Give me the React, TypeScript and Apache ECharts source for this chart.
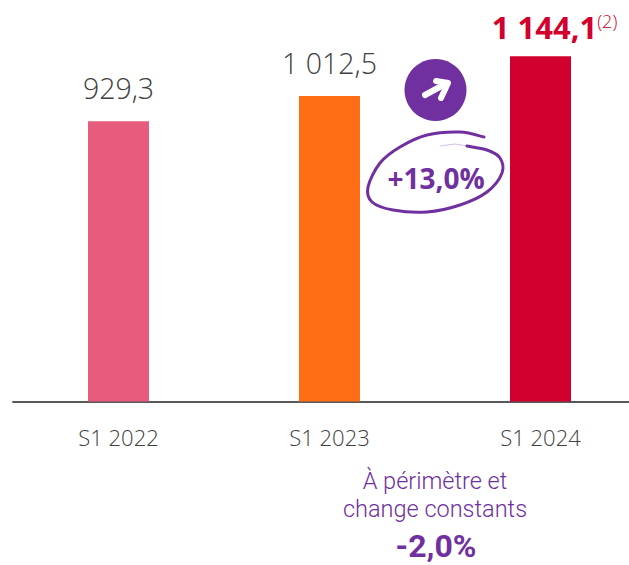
import React, { useEffect, useRef } from "react";
import * as echarts from "echarts";

const categories = ["S1 2022", "S1 2023", "S1 2024"];
const values = [929.3, 1012.5, 1144.1];
const valueLabels = ["929,3", "1 012,5", "1 144,1"];
const barColors = ["#E75C7D", "#FF6D14", "#D2002D"];
const growthLabel = "+13,0%";
const constantLines = ["À périmètre et", "change constants"];
const constantValue = "-2,0%";

const PURPLE = "#7030A0";
const FONT = '"Open Sans", "Noto Sans", sans-serif';
const NOTE_FONT = 'Roboto, "Open Sans", sans-serif';

const strokePoints = [
  [484, 137], [460, 132], [427, 135], [400, 147], [380, 163], [368, 187], [372, 202], [393, 210],
  [427, 212], [460, 205], [487, 192], [502, 173], [500, 158], [487, 150], [467, 146],
];

function smoothPath(p: number[][]) {
  let d = `M${p[0][0]} ${p[0][1]}`;
  for (let i = 0; i < p.length - 1; i++) {
    const p0 = p[Math.max(i - 1, 0)];
    const p1 = p[i];
    const p2 = p[i + 1];
    const p3 = p[Math.min(i + 2, p.length - 1)];
    const c1x = p1[0] + (p2[0] - p0[0]) / 6;
    const c1y = p1[1] + (p2[1] - p0[1]) / 6;
    const c2x = p2[0] - (p3[0] - p1[0]) / 6;
    const c2y = p2[1] - (p3[1] - p1[1]) / 6;
    d += ` C${c1x} ${c1y} ${c2x} ${c2y} ${p2[0]} ${p2[1]}`;
  }
  return d;
}

echarts.graphic.registerShape("handCircle", echarts.graphic.extendPath(smoothPath(strokePoints), {}));

export default function App() {
  const ref = useRef<HTMLDivElement>(null);
  useEffect(() => {
    document.body.style.margin = "0";
    const chart = echarts.init(ref.current!, null, { renderer: "svg" });
    chart.setOption({
      animation: false,
      grid: { left: 13, top: 39.5, width: 633, height: 362, containLabel: false },
      xAxis: {
        type: "category",
        data: categories,
        axisTick: { show: false },
        axisLine: { lineStyle: { color: "#595959", width: 2 } },
        axisLabel: { color: "#404040", fontFamily: FONT, fontWeight: 300, fontSize: 22, margin: 24 },
      },
      yAxis: { type: "value", min: 0, max: 1200, show: false, splitLine: { show: false } },
      series: [
        {
          type: "bar",
          barWidth: 61,
          data: values.map((v, i) => ({
            value: v,
            itemStyle: { color: barColors[i] },
            label:
              i === 2
                ? {
                    formatter: `{b|${valueLabels[i]}}{s|(2)}`,
                    rich: {
                      b: { color: "#D2002D", fontFamily: FONT, fontWeight: 700, fontSize: 31 },
                      s: { color: "#D2002D", fontFamily: FONT, fontWeight: 300, fontSize: 18, padding: [0, 0, 12, 0] },
                    },
                    offset: [14, 5],
                  }
                : { formatter: valueLabels[i] },
          })),
          label: {
            show: true,
            position: "top",
            distance: 19,
            color: "#404040",
            fontFamily: FONT,
            fontWeight: 300,
            fontSize: 28.5,
          },
        },
      ],
      graphic: [
        { type: "circle", shape: { cx: 435.5, cy: 90, r: 31 }, style: { fill: PURPLE } },
        {
          type: "polyline",
          shape: { points: [[425, 95], [447, 83]] },
          style: { stroke: "#fff", lineWidth: 6, lineCap: "round", fill: "none" },
        },
        {
          type: "polyline",
          shape: { points: [[436, 81], [448, 83], [441, 98]] },
          style: { stroke: "#fff", lineWidth: 6, lineCap: "round", lineJoin: "round", fill: "none" },
        },
        {
          type: "handCircle",
          x: 0,
          y: 0,
          style: { stroke: PURPLE, lineWidth: 3, fill: "none", lineCap: "round" },
        },
        {
          type: "polyline",
          shape: { points: [[467, 146], [455, 144], [440, 146]] },
          style: { stroke: PURPLE, lineWidth: 1, opacity: 0.3, fill: "none" },
        },
        {
          type: "text",
          x: 436,
          y: 178,
          style: {
            text: growthLabel, fill: PURPLE, font: `700 28px ${FONT}`,
            align: "center", verticalAlign: "middle",
          },
        },
        {
          type: "text",
          x: 435,
          y: 481,
          style: {
            text: constantLines[0], fill: PURPLE, font: `300 23.5px ${NOTE_FONT}`,
            align: "center", verticalAlign: "middle",
          },
        },
        {
          type: "text",
          x: 435,
          y: 509,
          style: {
            text: constantLines[1], fill: PURPLE, font: `300 23.5px ${NOTE_FONT}`,
            align: "center", verticalAlign: "middle",
          },
        },
        {
          type: "text",
          x: 436,
          y: 546,
          style: {
            text: constantValue, fill: PURPLE, font: `700 32px ${NOTE_FONT}`,
            align: "center", verticalAlign: "middle",
          },
        },
      ],
    });
    return () => chart.dispose();
  }, []);
  return (
    <div style={{ width: 629, height: 565, overflow: "hidden" }}>
      <div ref={ref} style={{ width: 660, height: 565 }} />
    </div>
  );
}
